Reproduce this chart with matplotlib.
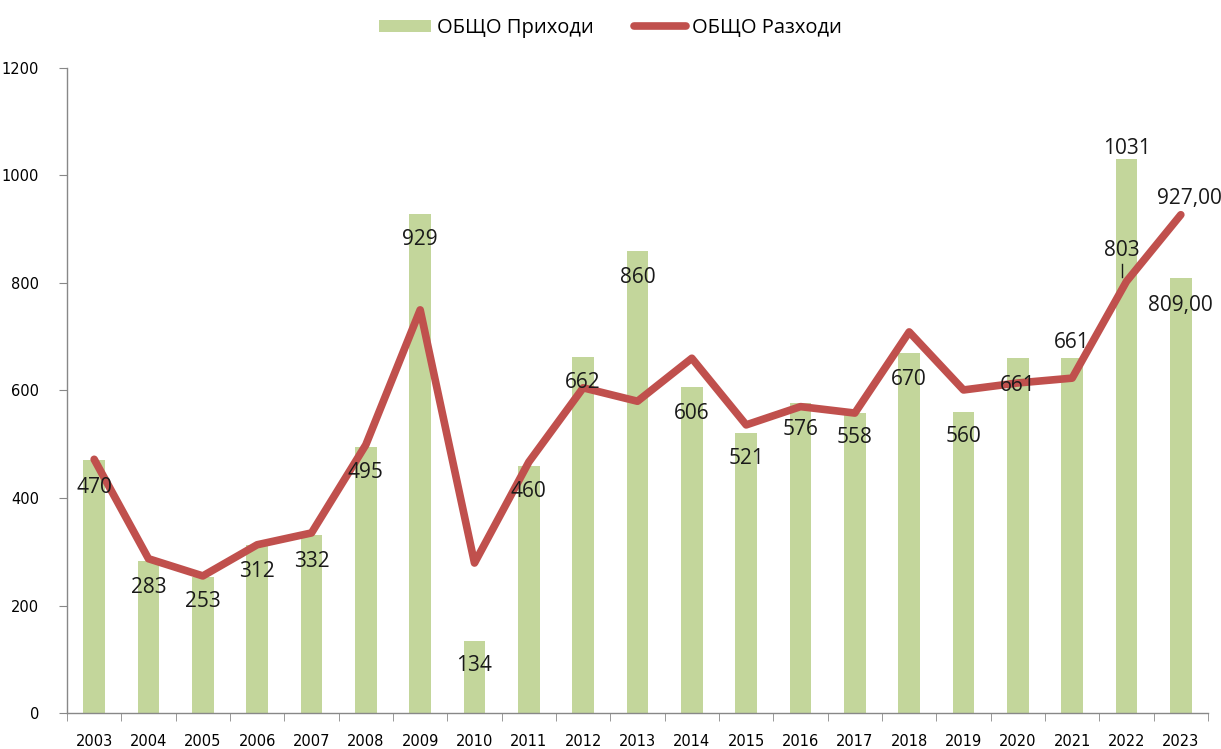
import numpy as np
import matplotlib
matplotlib.use("Agg")
import matplotlib.pyplot as plt

plt.rcParams['font.family'] = ['Open Sans', 'DejaVu Sans']

years = [str(y) for y in range(2003, 2024)]
income = [470, 283, 253, 312, 332, 495, 929, 134, 460, 662, 860, 606, 521, 576, 558, 670, 560, 661, 661, 1031, 809]
expenses = [472, 287, 255, 313, 335, 499, 750, 279, 467, 605, 580, 660, 536, 570, 558, 709, 601, 614, 623, 803, 927]

# label texts (bar values, last one written like in the source)
label_text = ["470", "283", "253", "312", "332", "495", "929", "134", "460", "662", "860",
              "606", "521", "576", "558", "670", "560", "661", "661", "1031", "809,00"]
# vertical centre of each bar label, in data units
label_y = [420, 234, 207, 263, 281, 447, 880, 89, 413, 614, 811,
           558, 473, 528, 512, 620, 514, 610, 690, 1051, 759]

bar_color = "#C3D69B"
line_color = "#C0504D"

fig = plt.figure(figsize=(12.21, 7.49), dpi=100)
ax = fig.add_axes([67 / 1221, 1 - 713 / 749, (1208 - 67) / 1221, (713 - 68) / 749])

x = np.arange(len(years))
bars = ax.bar(x, income, width=0.4, color=bar_color, label="ОБЩО Приходи", zorder=1)
line, = ax.plot(x, expenses, color=line_color, lw=5.5, solid_capstyle="round",
                solid_joinstyle="round", label="ОБЩО Разходи", zorder=2)

for i, (t, ly) in enumerate(zip(label_text, label_y)):
    ax.text(i, ly, t, ha="center", va="center", fontsize=15, color="#1a1a1a", zorder=3)

# line labels for 2022 and 2023
ax.text(x[-2] - 0.08, 861, str(expenses[-2]), ha="center", va="center", fontsize=15, color="#1a1a1a", zorder=3)
ax.plot([x[-2] - 0.08, x[-2] - 0.08], [836, 812], color="#1a1a1a", lw=1, zorder=3)
ax.text(x[-1] + 0.15, 958, f"{expenses[-1]},00", ha="center", va="center", fontsize=15, color="#1a1a1a", zorder=3)

ax.set_xlim(-0.5, len(years) - 0.5)
ax.set_ylim(0, 1200)
ax.set_yticks(range(0, 1201, 200))
ax.set_xticks(x)
ax.set_xticklabels(years)
ax.set_xticks(np.arange(-0.5, len(years)), minor=True)
ax.tick_params(axis="x", which="major", length=0, pad=15)
ax.tick_params(axis="x", which="minor", length=6, color="#888888", direction="out")
ax.tick_params(axis="y", length=6, color="#888888", pad=14)
for lab in ax.get_xticklabels() + ax.get_yticklabels():
    lab.set_fontfamily("DejaVu Sans")
    lab.set_fontsize(10.5)

for s in ["top", "right"]:
    ax.spines[s].set_visible(False)
for s in ["left", "bottom"]:
    ax.spines[s].set_color("#888888")
    ax.spines[s].set_linewidth(1)

fig.legend([bars, line], ["ОБЩО Приходи", "ОБЩО Разходи"], loc="upper center",
           bbox_to_anchor=(0.5, 1.0), ncol=2, frameon=False,
           fontsize=14.5, handlelength=2.6, handleheight=0.6, columnspacing=2.0, handletextpad=0.3)

fig.savefig("out.png", dpi=100)
